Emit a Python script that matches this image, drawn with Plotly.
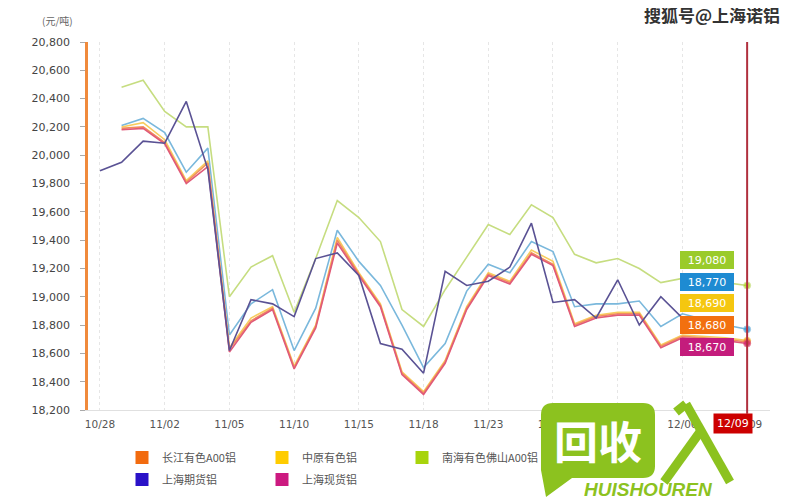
import plotly.graph_objects as go

# ---------------- data ----------------
dates = ["10/28", "10/29", "11/01", "11/02", "11/03", "11/04", "11/05", "11/08", "11/09", "11/10",
         "11/11", "11/12", "11/15", "11/16", "11/17", "11/18", "11/19", "11/22", "11/23", "11/24",
         "11/25", "11/26", "11/29", "11/30", "12/01", "12/02", "12/03", "12/06", "12/07", "12/08", "12/09"]
tick_labels = ["10/28", "11/02", "11/05", "11/10", "11/15", "11/18", "11/23", "11/26", "12/01", "12/06", "12/09"]

nanhai = [None, 20480, 20530, 20310, 20200, 20200, 19000, 19210, 19290, 18890,
          19270, 19680, 19560, 19390, 18910, 18790, 19050, 19280, 19510, 19440,
          19650, 19560, 19300, 19240, 19270, 19200, 19100, 19130, 19110, 19100, 19080]
blue_series = [None, 20210, 20260, 20160, 19880, 20050, 18730, 18950, 19050, 18620,
               18920, 19470, 19250, 19080, 18800, 18500, 18670, 19040, 19230, 19170,
               19390, 19320, 18930, 18950, 18950, 18970, 18790, 18880, 18840, 18800, 18770]
zhongyuan = [None, 20200, 20230, 20110, 19820, 19960, 18640, 18850, 18930, 18510,
             18800, 19420, 19170, 18950, 18470, 18330, 18550, 18930, 19170, 19110,
             19330, 19250, 18810, 18870, 18890, 18890, 18660, 18730, 18720, 18710, 18690]
changjiang = [None, 20190, 20200, 20090, 19810, 19945, 18630, 18830, 18920, 18500,
              18790, 19400, 19160, 18940, 18460, 18320, 18540, 18920, 19160, 19100,
              19310, 19230, 18800, 18860, 18880, 18880, 18650, 18720, 18710, 18700, 18680]
sh_spot = [None, 20180, 20190, 20080, 19800, 19920, 18610, 18820, 18910, 18490,
           18780, 19380, 19150, 18930, 18450, 18310, 18530, 18910, 19150, 19090,
           19300, 19220, 18790, 18850, 18870, 18870, 18640, 18710, 18700, 18690, 18670]
sh_fut = [19890, 19950, 20100, 20085, 20380, 19900, 18620, 18980, 18950, 18860,
          19270, 19310, 19150, 18670, 18630, 18460, 19180, 19080, 19110, 19210,
          19520, 18960, 18980, 18850, 19120, 18800, 19000, 18850, 18760, None, None]

y_ticks = [18200, 18400, 18600, 18800, 19000, 19200, 19400, 19600, 19800, 20000, 20200, 20400, 20600, 20800]

# ---------------- figure ----------------
OFF = 8                      # page body margin
W, H = 800 - OFF, 500 - OFF
# plot area in screen pixels
SX0, SX1, SY0, SY1 = 88, 770, 42, 410
L, T = SX0 - OFF, SY0 - OFF
R, B = W - (SX1 - OFF), H - (SY1 - OFF)
PW, PH = SX1 - SX0, SY1 - SY0


def pp(x, y):
    """screen pixel -> paper coords"""
    return (x - SX0) / PW, (SY1 - y) / PH


fig = go.Figure()

lines = [
    ("南海有色佛山A00铝", nanhai, "#c6dd80", "#a8d40c"),
    ("blue", blue_series, "#7ab8dc", "#1e8fd6"),
    ("中原有色铝", zhongyuan, "#f7cd5e", "#ffcc00"),
    ("长江有色A00铝", changjiang, "#f28e5c", "#f26b0f"),
    ("上海现货铝", sh_spot, "#e05a78", "#d01880"),
]
n = len(dates)
for name, vals, lc, mc in lines:
    fig.add_trace(go.Scatter(
        x=dates, y=vals, mode="lines+markers", name=name, showlegend=False,
        line=dict(color=lc, width=1.6),
        marker=dict(size=[0] * (n - 1) + [7], color=mc),
        hoverinfo="skip"))
fig.add_trace(go.Scatter(x=dates, y=sh_fut, mode="lines", name="上海期货铝", showlegend=False,
                         line=dict(color="#5a5294", width=1.6), connectgaps=False))

# legend entries (square swatches)
legend_items = [
    ("长江有色A00铝", "#f26b0f", "legend"),
    ("中原有色铝", "#ffcc00", "legend"),
    ("南海有色佛山A00铝", "#a8d40c", "legend"),
    ("上海期货铝", "#2a12c8", "legend2"),
    ("上海现货铝", "#cc1a80", "legend2"),
]
for name, c, lg in legend_items:
    fig.add_trace(go.Scatter(x=[None], y=[None], mode="markers", name=name, legend=lg,
                             marker=dict(symbol="square", size=13, color=c)))

font_cjk = "Noto Sans CJK SC, DejaVu Sans, sans-serif"
lx, ly1 = pp(122, 443)
_, ly2 = pp(122, 465)
legend_common = dict(orientation="h", xanchor="left", yanchor="top", x=lx,
                     font=dict(family=font_cjk, size=11, color="#555"),
                     entrywidth=95, entrywidthmode="pixels", bgcolor="rgba(0,0,0,0)",
                     itemclick=False, itemwidth=30)

fig.update_layout(
    width=W, height=H,
    margin=dict(l=L, r=R, t=T, b=B, autoexpand=False),
    paper_bgcolor="white", plot_bgcolor="white",
    showlegend=True,
    legend=dict(legend_common, y=ly1),
    legend2=dict(legend_common, y=ly2),
    xaxis=dict(type="category", categoryorder="array", categoryarray=dates,
               range=[-0.556, 31.06],
               tickmode="array", tickvals=tick_labels, ticktext=tick_labels,
               showgrid=True, gridcolor="#e6e6e6", griddash="dot", gridwidth=1,
               showline=True, linecolor="#e0e0e0", linewidth=1,
               ticks="", zeroline=False, ticklabelstandoff=4,
               tickfont=dict(family="DejaVu Sans, sans-serif", size=10.5, color="#555")),
    yaxis=dict(range=[18200, 20800], tickmode="array", tickvals=y_ticks,
               tickformat=",d", showgrid=False, zeroline=False,
               showline=True, linecolor="#f08a3c", linewidth=2.5,
               ticks="outside", ticklen=5, tickcolor="#aaa", ticklabelstandoff=8,
               tickfont=dict(family="DejaVu Sans, sans-serif", size=11, color="#444")),
)

# red cursor line at the last date
fig.add_shape(type="line", xref="x", yref="paper", x0=dates[-1], x1=dates[-1],
              y0=-0.01, y1=1, line=dict(color="#b0303e", width=2), layer="above")

annotations = []


def ann(text, x, y, xref="paper", yref="paper", **kw):
    d = dict(text=text, x=x, y=y, xref=xref, yref=yref, showarrow=False,
             xanchor=kw.pop("xanchor", "center"), yanchor=kw.pop("yanchor", "middle"))
    d.update(kw)
    annotations.append(d)


# unit label
ux, uy = pp(57, 21)
ann("(元/吨)", ux, uy, font=dict(family=font_cjk, size=10, color="#666"))
# watermark text
wx, wy = pp(782, 15)
ann("<b>搜狐号@上海诺铝</b>", wx, wy, xanchor="right",
    font=dict(family=font_cjk, size=17, color="#333"))

# value labels near cursor
label_specs = [
    (nanhai[-1], "#9acb2a", 260),
    (blue_series[-1], "#1e8bd2", 282),
    (zhongyuan[-1], "#f5c710", 303),
    (changjiang[-1], "#f2700f", 325),
    (sh_spot[-1], "#c41c7c", 347),
]
for v, c, ypix in label_specs:
    _, yp = pp(0, ypix)
    ann(f"{v:,}", dates[-1], yp, xref="x", xanchor="right", xshift=-13,
        bgcolor=c, bordercolor=c, borderpad=1, width=50, height=14,
        font=dict(family="DejaVu Sans, sans-serif", size=11, color="white"))
# red date box on x axis
_, yb = pp(0, 423)
ann("12/09", dates[-1], yb, xref="x", xshift=-14, bgcolor="#cc0000", borderpad=3,
    font=dict(family="DejaVu Sans, sans-serif", size=11, color="white"))

# ----- watermark logo (approximation) -----
green = "#8cc21f"


def P(x, y):
    a, b = pp(x, y)
    return f"{a:.4f},{b:.4f}"


path = (f"M {P(553,403)} L {P(643,403)} Q {P(655,403)} {P(655,415)} L {P(655,466)} "
        f"Q {P(655,478)} {P(643,478)} L {P(572,478)} L {P(546,497)} L {P(541,470)} "
        f"L {P(541,415)} Q {P(541,403)} {P(553,403)} Z")
fig.add_shape(type="path", path=path, xref="paper", yref="paper",
              fillcolor=green, line=dict(width=0), layer="above")
for (x0, y0, x1, y1) in [(686, 404, 730, 482), (700, 432, 664, 482), (686, 404, 676, 412)]:
    a0, b0 = pp(x0, y0)
    a1, b1 = pp(x1, y1)
    fig.add_shape(type="line", xref="paper", yref="paper", x0=a0, y0=b0, x1=a1, y1=b1,
                  line=dict(color=green, width=9), layer="above")
cx, cy = pp(598, 440)
ann("<b>回收</b>", cx, cy, font=dict(family=font_cjk, size=44, color="white"))
hx, hy = pp(648, 489)
ann("<b><i>HUISHOUREN</i></b>", hx, hy,
    font=dict(family="Liberation Sans, Arial, sans-serif", size=19, color=green))

fig.update_layout(annotations=annotations)

fig.write_html("out.html")
